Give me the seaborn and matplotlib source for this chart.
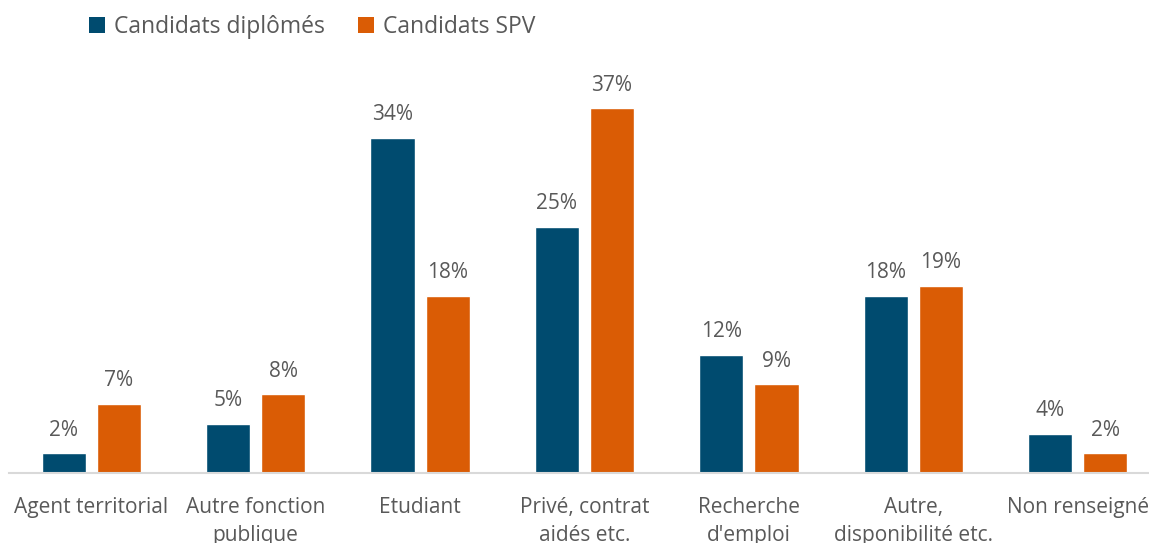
import matplotlib
matplotlib.use("Agg")
import matplotlib.pyplot as plt
import seaborn as sns
import pandas as pd
from matplotlib.patches import Patch

categories = ["Agent territorial", "Autre fonction\npublique", "Etudiant",
              "Privé, contrat\naidés etc.", "Recherche\nd'emploi",
              "Autre,\ndisponibilité etc.", "Non renseigné"]
series = ["Candidats diplômés", "Candidats SPV"]
diplomes = [2, 5, 34, 25, 12, 18, 4]
spv = [7, 8, 18, 37, 9, 19, 2]
colors = ["#004B6F", "#DA5C05"]
text_color = "#595959"

df = pd.DataFrame({
    "cat": categories * 2,
    "serie": [series[0]] * len(categories) + [series[1]] * len(categories),
    "val": diplomes + spv,
})

sns.set_theme(style="white")
plt.rcParams["font.family"] = ["Open Sans", "DejaVu Sans"]

fig = plt.figure(figsize=(11.49, 5.43), dpi=100)
W, H = 1149, 543
left_px, right_px, top_px, base_px = 9, 1160, 50, 473
ax = fig.add_axes([left_px / W, 1 - base_px / H, (right_px - left_px) / W, (base_px - top_px) / H])

sns.barplot(data=df, x="cat", y="val", hue="serie", palette=colors, ax=ax,
            width=0.67, gap=0.2, legend=False, saturation=1)

ax.set_ylim(0, (base_px - top_px) / 9.86)
ax.set_xlim(-0.5, len(categories) - 0.5)
ax.set_xlabel("")
ax.set_ylabel("")
ax.set_yticks([])
for s in ["top", "right", "left"]:
    ax.spines[s].set_visible(False)
ax.spines["bottom"].set_color("#D9D9D9")
ax.spines["bottom"].set_linewidth(1.5)
ax.tick_params(axis="x", length=0, pad=17, labelsize=15, colors=text_color)
for lab in ax.get_xticklabels():
    lab.set_linespacing(1.45)

for cont in ax.containers:
    ax.bar_label(cont, labels=[f"{v:.0f}%" for v in cont.datavalues],
                 padding=9, fontsize=15, color=text_color)

handles = [Patch(facecolor=c, edgecolor="none") for c in colors]
fig.legend(handles, series, loc="center left", bbox_to_anchor=(68 / W, 1 - 27 / H),
           ncol=2, frameon=False, fontsize=16.5, handlelength=0.7, handleheight=0.7,
           handletextpad=0.4, columnspacing=1.45, labelcolor=text_color)

fig.savefig("out.png", dpi=100)
